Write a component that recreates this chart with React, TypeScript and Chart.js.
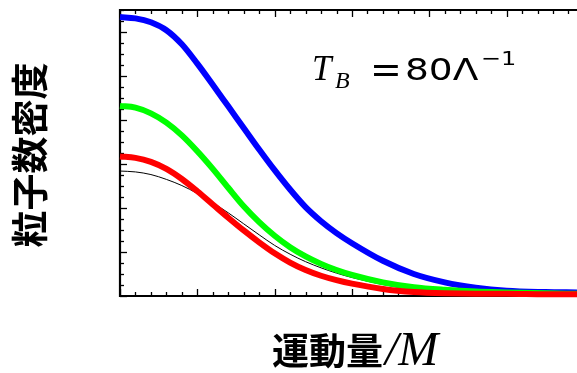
import React, { useEffect, useRef } from "react";
import { Chart, registerables } from "chart.js";

Chart.register(...registerables);

const momentum = [0, 0.2, 0.4, 0.6, 0.8, 1.0, 1.2, 1.4, 1.6, 1.8, 2.0, 2.2, 2.4, 2.6, 2.8, 3.0, 3.4, 3.8, 4.2, 4.6, 5.0, 5.5, 5.91];
const blueDensity = [6.34, 6.31, 6.22, 6.04, 5.72, 5.28, 4.8, 4.31, 3.82, 3.33, 2.86, 2.42, 2.02, 1.7, 1.43, 1.2, 0.8, 0.5, 0.31, 0.19, 0.12, 0.09, 0.08];
const greenDensity = [4.32, 4.28, 4.15, 3.94, 3.65, 3.29, 2.89, 2.46, 2.04, 1.68, 1.37, 1.11, 0.9, 0.73, 0.59, 0.48, 0.31, 0.2, 0.14, 0.1, 0.08, 0.06, 0.05];
const redDensity = [3.17, 3.14, 3.05, 2.89, 2.66, 2.38, 2.08, 1.78, 1.49, 1.22, 0.97, 0.76, 0.59, 0.46, 0.36, 0.28, 0.16, 0.09, 0.06, 0.05, 0.05, 0.04, 0.04];
const blackDensity = [2.84, 2.82, 2.76, 2.65, 2.51, 2.33, 2.12, 1.89, 1.64, 1.39, 1.15, 0.95, 0.78, 0.64, 0.52, 0.42, 0.26, 0.15, 0.09, 0.06, 0.04, 0.03, 0.03];

const xMin = 0;
const xMax = 5.91;
const yMin = 0;
const yMax = 6.5;
const xMinorStep = 0.2;
const yMinorStep = 0.25;

const yLabel = "粒子数密度";
const xLabelMain = "運動量";
const xLabelUnit = "/M";

function pts(ys: number[]) {
  return momentum.map((x, i) => ({ x, y: ys[i] }));
}

function wideText(ctx: any, text: string, x: number, y: number, sx: number) {
  ctx.save();
  ctx.translate(x, y);
  ctx.scale(sx, 1);
  ctx.fillText(text, 0, 0);
  ctx.restore();
}

const framePlugin = {
  id: "frame",
  beforeDatasetsDraw(chart: any) {
    const { ctx, chartArea } = chart;
    const xs = chart.scales.x;
    const ys = chart.scales.y;
    const { left, right, top, bottom } = chartArea;
    ctx.save();
    ctx.strokeStyle = "#000";
    ctx.lineWidth = 1.3;
    for (let i = 0; ; i++) {
      const v = xMin + i * xMinorStep;
      if (v > xMax + 1e-6) break;
      const px = Math.round(xs.getPixelForValue(v)) + 0.5;
      const major = i % 5 === 0;
      const len = major ? 7 : 4;
      ctx.beginPath();
      ctx.moveTo(px, bottom);
      ctx.lineTo(px, bottom - len);
      ctx.moveTo(px, top);
      ctx.lineTo(px, top + len);
      ctx.stroke();
    }
    for (let i = 0; ; i++) {
      const v = yMin + i * yMinorStep;
      if (v > yMax + 1e-6) break;
      const py = Math.round(ys.getPixelForValue(v)) + 0.5;
      const major = i % 4 === 0;
      const len = major ? 7 : 4;
      ctx.beginPath();
      ctx.moveTo(left, py);
      ctx.lineTo(left + len, py);
      ctx.stroke();
    }
    ctx.lineWidth = 2.2;
    ctx.beginPath();
    ctx.moveTo(right + 5, top);
    ctx.lineTo(left, top);
    ctx.lineTo(left, bottom);
    ctx.lineTo(right + 5, bottom);
    ctx.stroke();
    ctx.restore();
  },
  afterDraw(chart: any) {
    const { ctx } = chart;
    ctx.save();
    ctx.fillStyle = "#000";
    // y label
    ctx.save();
    ctx.translate(30, 155);
    ctx.rotate(-Math.PI / 2);
    ctx.font = 'bold 37px "Noto Sans CJK JP"';
    ctx.textAlign = "center";
    ctx.textBaseline = "middle";
    ctx.fillText(yLabel, 0, 0);
    ctx.restore();
    // x label
    ctx.font = 'bold 37px "Noto Sans CJK JP"';
    ctx.textAlign = "left";
    ctx.textBaseline = "alphabetic";
    ctx.fillText(xLabelMain, 272, 365);
    ctx.font = 'italic 48px "Liberation Serif"';
    ctx.fillText(xLabelUnit, 385, 365);
    // annotation
    const base = 80;
    ctx.font = 'italic 35px "Liberation Serif"';
    ctx.fillText("T", 312, base);
    ctx.font = 'italic 24px "Liberation Serif"';
    ctx.fillText("B", 335, base + 8);
    ctx.font = '38px "DejaVu Sans"';
    ctx.fillText("=", 370, base + 2);
    ctx.font = '30px "DejaVu Sans"';
    wideText(ctx, "80Λ", 405, base, 1.25);
    ctx.font = '20px "DejaVu Sans"';
    wideText(ctx, "−1", 481, base - 15, 1.2);
    ctx.restore();
  },
};

export default function App() {
  const ref = useRef<HTMLCanvasElement>(null);
  useEffect(() => {
    if (!ref.current) return;
    const mk = (data: number[], color: string, width: number, order: number) => ({
      data: pts(data),
      borderColor: color,
      backgroundColor: color,
      borderWidth: width,
      pointRadius: 0,
      fill: false,
      cubicInterpolationMode: "monotone" as const,
      borderCapStyle: "butt" as const,
      clip: false as any,
      order,
    });
    const chart = new Chart(ref.current, {
      type: "line",
      data: {
        datasets: [
          mk(redDensity, "#ff0000", 6, 0),
          mk(greenDensity, "#00ff00", 6, 1),
          mk(blueDensity, "#0000ff", 6, 2),
          mk(blackDensity, "#000000", 1, 3),
        ],
      },
      options: {
        animation: false,
        responsive: false,
        maintainAspectRatio: false,
        layout: { padding: { left: 120, right: 0, top: 10, bottom: 77 } },
        plugins: { legend: { display: false }, tooltip: { enabled: false } },
        scales: {
          x: { type: "linear", min: xMin, max: xMax, display: false },
          y: { type: "linear", min: yMin, max: yMax, display: false },
        },
      },
      plugins: [framePlugin],
    });
    return () => chart.destroy();
  }, []);
  return (
    <div style={{ position: "fixed", left: 0, top: 0, width: 577, height: 373, background: "#fff" }}>
      <canvas ref={ref} width={577} height={373} style={{ width: 577, height: 373, display: "block" }} />
    </div>
  );
}
